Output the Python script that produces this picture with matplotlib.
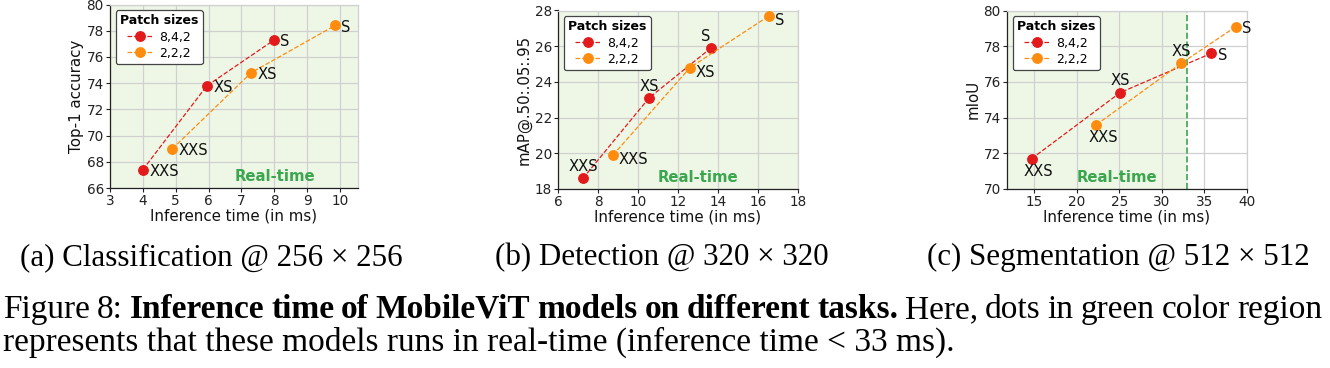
import matplotlib
matplotlib.use("Agg")
import matplotlib.pyplot as plt

# ---------------- data ----------------
model_names = ["XXS", "XS", "S"]
series_names = ["8,4,2", "2,2,2"]

cls_time_842 = [4.0, 5.95, 8.0]
cls_acc_842 = [67.4, 73.8, 77.3]
cls_time_222 = [4.9, 7.3, 9.85]
cls_acc_222 = [69.0, 74.8, 78.4]

det_time_842 = [7.25, 10.55, 13.65]
det_map_842 = [18.6, 23.1, 25.9]
det_time_222 = [8.75, 12.6, 16.55]
det_map_222 = [19.9, 24.8, 27.7]

seg_time_842 = [14.7, 25.1, 35.8]
seg_miou_842 = [71.7, 75.4, 77.6]
seg_time_222 = [22.3, 32.3, 38.7]
seg_miou_222 = [73.6, 77.05, 79.1]

realtime_ms = 33

subcaptions = ["(a) Classification @ 256 \u00d7 256",
               "(b) Detection @ 320 \u00d7 320",
               "(c) Segmentation @ 512 \u00d7 512"]

caption_line1 = [("Figure", "normal"), ("8:", "normal"),
                 ("Inference", "bold"), ("time", "bold"), ("of", "bold"),
                 ("MobileViT", "bold"), ("models", "bold"), ("on", "bold"),
                 ("different", "bold"), ("tasks.", "bold"),
                 ("Here,", "normal"), ("dots", "normal"), ("in", "normal"),
                 ("green", "normal"), ("color", "normal"), ("region", "normal")]
caption_line2 = "represents that these models runs in real-time (inference time < 33 ms)."

# ---------------- style ----------------
RED = "#e31a1c"
ORANGE = "#ff8c0e"
GREEN_BG = "#eef7e6"
GREEN_TXT = "#3aa64e"
GRID = "#d0d0d0"

W, H = 1330, 368
fig = plt.figure(figsize=(W / 100, H / 100), dpi=100)


def px_axes(l, r, t, b):
    return [l / W, (H - b) / H, (r - l) / W, (b - t) / H]


# label offsets in points (dx, dy, ha, va)
RIGHT = (4.5, -1.5, "left", "center")
RIGHT_LOW = (4, -3.5, "left", "center")
ABOVE = (0, 8.5, "center", "center")
ABOVE_L = (-4, 8.5, "center", "center")
BELOW = (5, -9, "center", "center")

panels = [
    dict(pos=px_axes(110, 358, 4.5, 188), x1=cls_time_842, y1=cls_acc_842,
         x2=cls_time_222, y2=cls_acc_222, xlim=(3, 10.55), ylim=(66, 80),
         xticks=range(3, 11), yticks=range(66, 81, 2), ylabel="Top-1 accuracy",
         lab1=[RIGHT, RIGHT, RIGHT], lab2=[RIGHT, RIGHT, RIGHT],
         rt=(0.665, 0.065), span=None),
    dict(pos=px_axes(558, 798, 10.5, 189), x1=det_time_842, y1=det_map_842,
         x2=det_time_222, y2=det_map_222, xlim=(6, 18), ylim=(18, 28),
         xticks=range(6, 19, 2), yticks=range(18, 29, 2), ylabel="mAP@.50:.05:.95",
         lab1=[ABOVE, ABOVE, ABOVE_L], lab2=[RIGHT_LOW, RIGHT_LOW, RIGHT_LOW],
         rt=(0.585, 0.067), span=None),
    dict(pos=px_axes(1007, 1247, 10.5, 189), x1=seg_time_842, y1=seg_miou_842,
         x2=seg_time_222, y2=seg_miou_222, xlim=(11.8, 40), ylim=(70, 80),
         xticks=range(15, 41, 5), yticks=range(70, 81, 2), ylabel="mIoU",
         lab1=[BELOW, ABOVE, RIGHT], lab2=[BELOW, ABOVE, RIGHT],
         rt=(0.46, 0.067), span=realtime_ms),
]

for p in panels:
    ax = fig.add_axes(p["pos"])
    ax.set_xlim(*p["xlim"])
    ax.set_ylim(*p["ylim"])
    ax.set_facecolor("white")
    if p["span"] is None:
        ax.set_facecolor(GREEN_BG)
    else:
        ax.axvspan(p["xlim"][0], p["span"], color=GREEN_BG, zorder=0, lw=0)
        ax.axvline(p["span"], color=GREEN_TXT, ls="--", lw=1.2, zorder=1)
    ax.set_xticks(list(p["xticks"]))
    ax.set_yticks(list(p["yticks"]))
    ax.grid(True, color=GRID, lw=0.9, zorder=0.5)
    ax.set_axisbelow(True)
    for s in ["top", "right"]:
        ax.spines[s].set_color(GRID)
    for s in ["left", "bottom"]:
        ax.spines[s].set_color("#222222")
    for s in ax.spines.values():
        s.set_linewidth(0.9)
    ax.tick_params(labelsize=9.8, length=3, width=0.8, pad=1.5, colors="#222222")
    ax.set_xlabel("Inference time (in ms)", fontsize=10.8, labelpad=0.5, color="#111111")
    ax.set_ylabel(p["ylabel"], fontsize=10.8, labelpad=2, color="#111111")

    ax.plot(p["x1"], p["y1"], ls="--", lw=0.9, color=RED, marker="o", ms=6.8,
            label=series_names[0], zorder=3)
    ax.plot(p["x2"], p["y2"], ls="--", lw=0.9, color=ORANGE, marker="o", ms=6.8,
            label=series_names[1], zorder=3)

    for xs, ys, labs in [(p["x1"], p["y1"], p["lab1"]), (p["x2"], p["y2"], p["lab2"])]:
        for name, x, y, (dx, dy, ha, va) in zip(model_names, xs, ys, labs):
            ax.annotate(name, (x, y), xytext=(dx, dy), textcoords="offset points",
                        ha=ha, va=va, fontsize=10.6, color="#111111", zorder=4)

    ax.text(p["rt"][0], p["rt"][1], "Real-time", transform=ax.transAxes,
            ha="center", va="center", fontsize=10.7, fontweight="bold", color=GREEN_TXT)

    leg = ax.legend(loc="upper left", fontsize=9.0, title="Patch sizes",
                    title_fontproperties={"weight": "bold", "size": 9.0},
                    frameon=True, fancybox=True, borderaxespad=0.45,
                    handlelength=2.0, handletextpad=0.6, borderpad=0.35,
                    labelspacing=0.25)
    leg.get_frame().set_edgecolor("#444444")
    leg.get_frame().set_linewidth(0.9)
    leg.get_frame().set_facecolor("white")
    leg.get_frame().set_alpha(1)

# ---------------- captions ----------------
SERIF = "Liberation Serif"
SUB_SIZE = 22.3
CAP_SIZE = 24.0
cap_x = [211, 662, 1118]
for cx, c in zip(cap_x, subcaptions):
    fig.text(cx / W, (H - 265) / H, c, ha="center", va="baseline",
             fontsize=SUB_SIZE, family=SERIF)

fig.canvas.draw()
renderer = fig.canvas.get_renderer()

# line 1: justified between x=3 and x=1322
left, right, base1 = 3, 1322, 318
words = []
for w, wt in caption_line1:
    t = fig.text(0, (H - base1) / H, w, ha="left", va="baseline",
                 fontsize=CAP_SIZE, family=SERIF, fontweight=wt)
    words.append((t, t.get_window_extent(renderer).width))
total = sum(wd for _, wd in words)
gap = (right - left - total) / (len(words) - 1)
x = left
for t, wd in words:
    t.set_x(x / W)
    x += wd + gap

# line 2: natural width
fig.text(left / W, (H - 351) / H, caption_line2, ha="left", va="baseline",
         fontsize=CAP_SIZE, family=SERIF)

fig.savefig("out.png", dpi=100)
